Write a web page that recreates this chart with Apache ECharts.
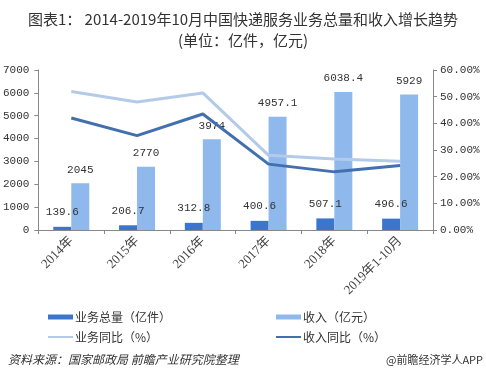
<!DOCTYPE html>
<html><head><meta charset="utf-8">
<script src="https://cdn.jsdelivr.net/npm/echarts@6/dist/echarts.min.js"></script>
<style>html,body{margin:0;padding:0;background:#fff}#c{width:486px;height:380px}</style>
</head><body><div id="c"></div>
<script>
var categories = ['2014年','2015年','2016年','2017年','2018年','2019年1-10月'];
var volume = [139.6, 206.7, 312.8, 400.6, 507.1, 496.6];
var revenue = [2045, 2770, 3974, 4957.1, 6038.4, 5929];
var volumeYoY = [0.519, 0.480, 0.514, 0.280, 0.266, 0.258];
var revenueYoY = [0.420, 0.354, 0.435, 0.247, 0.218, 0.242];
var leftTicks = [0, 7000, 1000];
var rightTicks = [0, 0.6, 0.1];

var C_VOL = '#3b76cc', C_REV = '#8fb8ec', C_VY = '#b3cbe9', C_RY = '#4270ae';
var mono = '"Liberation Mono","DejaVu Sans Mono","Noto Sans CJK SC",monospace';
var serif = '"Liberation Serif","Noto Sans CJK SC",serif';
var sans = '"Noto Sans CJK SC","Noto Sans",sans-serif';

var chart = echarts.init(document.getElementById('c'), null, {renderer:'canvas'});
function lg(name, left, top, isBar, color){
  return {data:[{name:name, icon:'rect'}], left:left, top:top, itemWidth:25, itemHeight:isBar?5:2,
    itemGap:0, selectedMode:false, textStyle:{fontFamily:sans, fontSize:12, color:'#333', padding:[0,0,0,-3]},
    itemStyle:{color:color}};
}
chart.setOption({
  animation:false,
  title:{text:'图表1： 2014-2019年10月中国快递服务业务总量和收入增长趋势\n(单位：亿件，亿元)', left:'center', top:4,
    textStyle:{fontFamily:sans, fontSize:15, fontWeight:'normal', color:'#333', lineHeight:21}},
  grid:{left:36, right:53, top:70, bottom:150},
  legend:[lg('业务总量（亿件）',43,306,true,C_VOL), lg('收入（亿元）',271,306,true,C_REV),
          lg('业务同比（%）',43,326,false,C_VY), lg('收入同比（%）',271,326,false,C_RY)],
  xAxis:{type:'category', data:categories,
    axisLine:{lineStyle:{color:'#888'}}, axisTick:{show:true, length:4, lineStyle:{color:'#888'}},
    axisLabel:{rotate:45, interval:0, fontFamily:serif, fontSize:13, color:'#444', margin:9}},
  yAxis:[
    {type:'value', min:leftTicks[0], max:leftTicks[1], interval:leftTicks[2], splitLine:{show:false},
     axisLine:{show:true, lineStyle:{color:'#888'}}, axisTick:{show:true, length:4, lineStyle:{color:'#888'}},
     axisLabel:{fontFamily:mono, fontSize:11, color:'#333', margin:9, formatter:function(v){return String(v);}}},
    {type:'value', min:rightTicks[0], max:rightTicks[1], interval:rightTicks[2], splitLine:{show:false},
     axisLine:{show:true, lineStyle:{color:'#888'}}, axisTick:{show:true, length:4, lineStyle:{color:'#888'}},
     axisLabel:{fontFamily:mono, fontSize:11, color:'#333', margin:7,
       formatter:function(v){return (v*100).toFixed(2)+'%';}}}
  ],
  series:[
    {name:'业务总量（亿件）', type:'bar', data:volume, barWidth:18, barGap:'0%', itemStyle:{color:C_VOL},
     label:{show:true, position:'top', distance:9, fontFamily:mono, fontSize:11, color:'#333'}},
    {name:'收入（亿元）', type:'bar', data:revenue, barWidth:18, barGap:'0%', itemStyle:{color:C_REV},
     label:{show:true, position:'top', distance:8, fontFamily:mono, fontSize:11, color:'#333'}},
    {name:'业务同比（%）', type:'line', yAxisIndex:1, data:volumeYoY, symbol:'none',
     lineStyle:{width:3, color:C_VY}, itemStyle:{color:C_VY}},
    {name:'收入同比（%）', type:'line', yAxisIndex:1, data:revenueYoY, symbol:'none',
     lineStyle:{width:3, color:C_RY}, itemStyle:{color:C_RY}}
  ],
  graphic:[
    {type:'text', left:8, top:353, style:{text:'资料来源：国家邮政局 前瞻产业研究院整理', fontFamily:sans, fontSize:12, fontStyle:'italic', fill:'#333'}},
    {type:'text', right:3, top:354, style:{text:'@前瞻经济学人APP', fontFamily:sans, fontSize:11, fill:'#333'}}
  ]
});
</script></body></html>
